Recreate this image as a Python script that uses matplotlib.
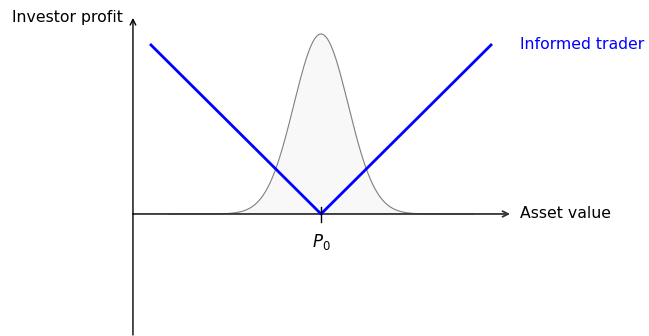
import matplotlib
matplotlib.use("Agg")
import matplotlib.pyplot as plt
import numpy as np

# payoff of the informed trader (asset value relative to P0, investor profit)
asset_value = [-1.0, 0.0, 1.0]
investor_profit = [1.0, 0.0, 1.0]

# belief about the asset value: normal bell centred on P0
p0 = 0.0
bell_sigma = 0.16
bell_peak = 1.065

plt.rcParams['font.family'] = ['DejaVu Sans']
plt.rcParams['mathtext.fontset'] = 'dejavusans'

fig = plt.figure(figsize=(6.49, 3.36), dpi=100)
ax = fig.add_axes([0, 0, 1, 1])
ax.set_xlim(-1.888, 1.929)
ax.set_ylim(-0.722, 1.266)
ax.axis('off')

x0, x1 = -1.106, 1.112
y0, y1 = -0.716, 1.16

# bell
xs = np.linspace(-0.9, 0.9, 400)
ys = bell_peak * np.exp(-(xs - p0) ** 2 / (2 * bell_sigma ** 2))
ax.fill_between(xs, 0, ys, color='#f8f8f8', zorder=1)
ax.plot(xs, ys, color='#808080', lw=0.8, zorder=2)

# axes with arrows
ax.annotate('', xy=(x1, 0), xytext=(x0, 0),
            arrowprops=dict(arrowstyle='->', lw=1.3, color='#333333',
                            shrinkA=0, shrinkB=0), zorder=3)
ax.annotate('', xy=(x0, y1), xytext=(x0, y0),
            arrowprops=dict(arrowstyle='->', lw=1.0, color='black',
                            shrinkA=0, shrinkB=0), zorder=3)

# tick at P0
ax.plot([p0, p0], [-0.047, 0.042], color='black', lw=1.0, zorder=5)
ax.text(p0, -0.165, r'$P_0$', ha='center', va='center', fontsize=12)

# payoff V
ax.plot(asset_value, investor_profit, color='blue', lw=2.0, zorder=4)

ax.text(x0 - 0.06, y1, 'Investor profit', ha='right', va='center', fontsize=11.3)
ax.text(x1 + 0.06, 0, 'Asset value', ha='left', va='center', fontsize=11.3)
ax.text(1.17, 1.0, 'Informed trader', ha='left', va='center',
        fontsize=11.3, color='blue')

fig.savefig('out.png', dpi=100)
